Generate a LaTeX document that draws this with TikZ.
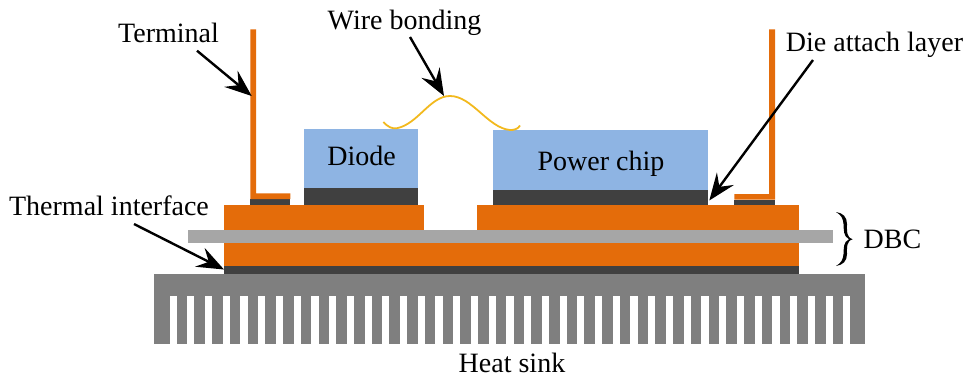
\documentclass[tikz,border=0pt]{standalone}
\usepackage{fontspec}
\setmainfont{Liberation Serif}
\usetikzlibrary{arrows.meta}
\definecolor{copper}{HTML}{E46C0A}
\definecolor{ceramic}{HTML}{A6A6A6}
\definecolor{solder}{HTML}{404040}
\definecolor{chip}{HTML}{8EB4E3}
\definecolor{sink}{HTML}{7F7F7F}
\definecolor{wire}{HTML}{F2B91E}
\tikzset{
	label text/.style={inner sep=0pt, anchor=base, font=\fontsize{28}{30}\selectfont},
	callout/.style={-{Stealth[length=27pt, width=21pt, inset=10pt]}, line width=2.4pt, black},
}
\begin{document}
\begin{tikzpicture}[x=1pt, y=-1pt]
	\useasboundingbox (0,0) rectangle (971,378);
	
	% heat sink
	\fill [sink] (154,274) rectangle (865,344);
	\foreach \i in {0,...,38}
		\fill [white] ({169.5+17.73*\i},296) rectangle ({176.7+17.73*\i},345);
	
	% substrate layers
	\fill [solder] (224.3,265.7) rectangle (799.3,274);  % thermal interface
	\fill [copper] (224.3,243) rectangle (799.3,265.7);  % lower copper
	\fill [copper] (224.3,204.7) rectangle (424.3,230.5);  % upper copper left
	\fill [copper] (476.7,204.7) rectangle (799.3,230.5);  % upper copper right
	\fill [ceramic] (187.7,230.3) rectangle (832.7,243.3);  % ceramic
	
	% dies
	\fill [solder] (304,187.7) rectangle (418.3,204.7);
	\fill [chip] (304,129) rectangle (418.3,187.7);
	\fill [solder] (493.3,189.7) rectangle (708.3,204.7);
	\fill [chip] (493.3,130) rectangle (708.3,189.7);
	
	% terminals
	\fill [solder] (250.3,199) rectangle (290.3,204.7);
	\fill [copper] (250.3,29.3) -- (256.2,29.3) -- (256.2,193.3) -- (290.3,193.3) -- (290.3,199) -- (250.3,199) -- cycle;
	\fill [solder] (734.3,199.5) rectangle (774.6,204.7);
	\fill [copper] (769,29.3) -- (775,29.3) -- (775,199.5) -- (734.3,199.5) -- (734.3,194) -- (769,194) -- cycle;
	
	% wire bond
	\draw [wire, line width=1.8pt] (383.3,122) .. controls (388,127) and (392,129) .. (397,128.2)
		.. controls (418,124) and (430,96) .. (450,96)
		.. controls (472,96) and (488,128) .. (510,130)
		.. controls (514,130.2) and (518,129) .. (520,125.5);
	
	% labels
	\node [label text] (terminal) at (168.5,42) {Terminal};
	\node [label text] (wirebond) at (404.5,29.5) {Wire bonding};
	\node [label text] (dieattach) at (874.5,51) {Die attach layer};
	\node [label text] (thermal) at (109,215.7) {Thermal interface};
	\node [label text] (dbc) at (892.5,248) {DBC};
	\node [label text] (heatsink) at (512,372) {Heat sink};
	\node [label text] (diode) at (361.7,165) {Diode};
	\node [label text] (powerchip) at (601,170) {Power chip};
	
	% arrows
	\coordinate (terminaltip) at (251.7,96);
	\coordinate (wiretip) at (444,96);
	\coordinate (dietip) at (709.3,200.5);
	\coordinate (thermaltip) at (224,269.5);
	\coordinate (terminalstart) at (197,50.7);
	\coordinate (wirestart) at (410,37);
	\coordinate (diestart) at (813,60);
	\coordinate (thermalstart) at (134,224);
	\draw [callout] (terminalstart) -- (terminaltip);
	\draw [callout] (wirestart) -- (wiretip);
	\draw [callout] (diestart) -- (dietip);
	\draw [callout] (thermalstart) -- (thermaltip);
	
	% brace
	\fill (836,212) .. controls (843,213) and (847,217) .. (847,224)
		.. controls (847,231) and (846,237) .. (852.7,239.3)
		.. controls (846,241) and (847,248) .. (847,254)
		.. controls (847,261) and (843,265) .. (836,266)
		.. controls (841,263) and (843,260) .. (843.5,254)
		.. controls (844,248) and (843,242) .. (849,239.3)
		.. controls (843,236) and (844,230) .. (843.5,224)
		.. controls (843,218) and (841,215) .. (836,212) -- cycle;
\end{tikzpicture}
\end{document}
